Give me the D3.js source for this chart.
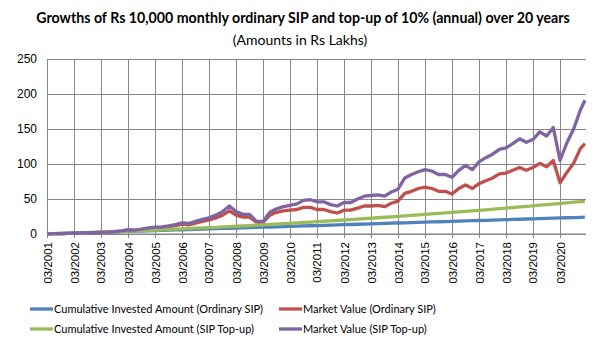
<!DOCTYPE html>
<html>
<head>
<meta charset="utf-8">
<script src="https://cdn.jsdelivr.net/npm/d3@7"></script>
<style>
  body { margin: 0; background: #fff; }
  svg { font-family: Lato, "Open Sans", sans-serif; }
</style>
</head>
<body>
<svg width="605" height="346"></svg>
<script>
// quarterly readings, Mar 2001 .. Dec 2020, then Feb 2021
var dates = [
  '03/2001','06/2001','09/2001','12/2001','03/2002','06/2002','09/2002','12/2002',
  '03/2003','06/2003','09/2003','12/2003','03/2004','06/2004','09/2004','12/2004',
  '03/2005','06/2005','09/2005','12/2005','03/2006','06/2006','09/2006','12/2006',
  '03/2007','06/2007','09/2007','12/2007','03/2008','06/2008','09/2008','12/2008',
  '03/2009','06/2009','09/2009','12/2009','03/2010','06/2010','09/2010','12/2010',
  '03/2011','06/2011','09/2011','12/2011','03/2012','06/2012','09/2012','12/2012',
  '03/2013','06/2013','09/2013','12/2013','03/2014','06/2014','09/2014','12/2014',
  '03/2015','06/2015','09/2015','12/2015','03/2016','06/2016','09/2016','12/2016',
  '03/2017','06/2017','09/2017','12/2017','03/2018','06/2018','09/2018','12/2018',
  '03/2019','06/2019','09/2019','12/2019','03/2020','06/2020','09/2020','12/2020',
  '02/2021'
];

// Cumulative Invested Amount (Ordinary SIP)
var investedSip = [
  0.1, 0.4, 0.7, 1.0, 1.3, 1.6, 1.9, 2.2, 2.5, 2.8, 3.1, 3.4, 3.7, 4.0, 4.3, 4.6,
  4.9, 5.2, 5.5, 5.8, 6.1, 6.4, 6.7, 7.0, 7.3, 7.6, 7.9, 8.2, 8.5, 8.8, 9.1, 9.4,
  9.7, 10.0, 10.3, 10.6, 10.9, 11.2, 11.5, 11.8, 12.1, 12.4, 12.7, 13.0, 13.3, 13.6, 13.9, 14.2,
  14.5, 14.8, 15.1, 15.4, 15.7, 16.0, 16.3, 16.6, 16.9, 17.2, 17.5, 17.8, 18.1, 18.4, 18.7, 19.0,
  19.3, 19.6, 19.9, 20.2, 20.5, 20.8, 21.1, 21.4, 21.7, 22.0, 22.3, 22.6, 22.9, 23.2, 23.5, 23.8,
  24.0
];

// Market Value (Ordinary SIP)
var marketSip = [
  0.1, 0.4, 0.6, 0.9, 1.2, 1.5, 1.7, 2.0, 2.2, 2.6, 3.3, 4.2, 5.8, 5.3, 6.5, 8.0,
  8.8, 9.0, 10.5, 12.0, 14.0, 13.0, 15.5, 18.0, 20.0, 23.0, 27.0, 33.0, 27.0, 24.0, 24.0, 17.0,
  16.5, 27.0, 31.0, 33.0, 34.0, 35.0, 38.0, 38.0, 35.0, 35.0, 32.0, 30.0, 34.0, 34.0, 37.0, 40.0,
  40.0, 41.0, 39.0, 44.0, 47.0, 58.0, 61.0, 65.0, 67.0, 65.0, 61.0, 61.0, 57.0, 65.0, 70.0, 65.0,
  72.0, 76.0, 80.0, 86.0, 87.0, 91.0, 95.0, 91.0, 95.0, 101.0, 96.0, 105.0, 73.0, 88.0, 101.0, 122.0,
  129.0
];

// Cumulative Invested Amount (SIP Top-up)
var investedTopup = [
  0.1, 0.4, 0.7, 1.0, 1.3, 1.6, 2.0, 2.3, 2.6, 3.0, 3.4, 3.7, 4.1, 4.5, 4.9, 5.3,
  5.7, 6.1, 6.5, 6.9, 7.4, 7.8, 8.3, 8.7, 9.2, 9.6, 10.1, 10.6, 11.1, 11.6, 12.1, 12.6,
  13.1, 13.7, 14.2, 14.8, 15.3, 15.9, 16.5, 17.0, 17.6, 18.2, 18.8, 19.4, 20.0, 20.6, 21.3, 21.9,
  22.5, 23.2, 23.9, 24.5, 25.2, 25.9, 26.6, 27.3, 28.0, 28.7, 29.4, 30.1, 30.9, 31.6, 32.4, 33.1,
  33.9, 34.6, 35.4, 36.2, 37.0, 37.8, 38.6, 39.4, 40.2, 41.1, 41.9, 42.8, 43.6, 44.5, 45.4, 46.2,
  46.8
];

// Market Value (SIP Top-up)
var marketTopup = [
  0.1, 0.4, 0.6, 0.9, 1.2, 1.5, 1.8, 2.1, 2.3, 2.8, 3.5, 4.5, 6.0, 5.6, 7.0, 8.8,
  9.8, 10.0, 11.5, 13.5, 16.0, 15.0, 18.0, 21.0, 23.0, 27.0, 32.0, 40.0, 32.0, 28.0, 28.0, 18.5,
  18.0, 31.0, 36.0, 39.0, 41.0, 43.0, 48.0, 49.0, 46.0, 46.0, 42.0, 40.0, 45.0, 45.0, 50.0, 54.0,
  55.0, 56.0, 54.0, 60.0, 64.0, 80.0, 85.0, 89.0, 92.0, 90.0, 85.0, 85.0, 81.0, 91.0, 98.0, 92.0,
  103.0, 109.0, 114.0, 121.0, 123.0, 129.0, 136.0, 131.0, 135.0, 146.0, 140.0, 152.0, 105.0, 130.0, 150.0, 177.0,
  191.0
];

var yTicks = [0, 50, 100, 150, 200, 250];
var xTickLabels = ['03/2001','03/2002','03/2003','03/2004','03/2005','03/2006','03/2007',
  '03/2008','03/2009','03/2010','03/2011','03/2012','03/2013','03/2014','03/2015',
  '03/2016','03/2017','03/2018','03/2019','03/2020'];

var seriesNames = ['Cumulative Invested Amount (Ordinary SIP)', 'Market Value (Ordinary SIP)',
  'Cumulative Invested Amount (SIP Top-up)', 'Market Value (SIP Top-up)'];
var seriesValues = [investedSip, marketSip, investedTopup, marketTopup];
var colors = ['#4f81bd', '#c0504d', '#9bbb59', '#8064a2'];

var margin = { top: 59, left: 47, right: 19, bottom: 112 };
var width = 605 - margin.left - margin.right,
    height = 346 - margin.top - margin.bottom;

var parse = d3.timeParse('%m/%Y');

var svg = d3.select('svg');
var g = svg.append('g')
    .attr('transform', 'translate(' + margin.left + ',' + margin.top + ')');

var x = d3.scaleTime()
    .domain([parse('03/2001'), parse('03/2021')])
    .range([0, 540]);
var y = d3.scaleLinear().domain([0, 250]).range([height, 0]);

// horizontal grid + y labels
var yAxis = g.append('g')
    .call(d3.axisLeft(y).tickValues(yTicks).tickSize(-width).tickPadding(10));
yAxis.select('.domain').remove();
yAxis.selectAll('line').attr('stroke', '#868686');
yAxis.selectAll('text').attr('font-size', '12px').attr('fill', '#000');

// vertical grid + rotated date labels
var xAxis = g.append('g')
    .attr('transform', 'translate(0,' + height + ')')
    .call(d3.axisBottom(x)
      .tickValues(xTickLabels.map(parse))
      .tickFormat(d3.timeFormat('%m/%Y'))
      .tickSizeInner(-height - 4)
      .tickSizeOuter(0));
xAxis.select('.domain').remove();
xAxis.selectAll('line').attr('stroke', '#868686').attr('y1', 4).attr('y2', -height);
xAxis.selectAll('text')
    .attr('font-size', '11.5px')
    .attr('fill', '#000')
    .attr('transform', 'rotate(-90)')
    .attr('text-anchor', 'end')
    .attr('x', -8)
    .attr('y', 0)
    .attr('dy', '0.35em');

// x axis baseline
g.append('line')
    .attr('x1', 0).attr('x2', width)
    .attr('y1', height).attr('y2', height)
    .attr('stroke', '#868686');

var line = d3.line()
    .x(function(d, i) { return x(parse(dates[i])); })
    .y(function(d) { return y(d); });

seriesValues.forEach(function(vals, k) {
  g.append('path')
      .datum(vals)
      .attr('fill', 'none')
      .attr('stroke', colors[k])
      .attr('stroke-width', 3.3)
      .attr('stroke-linejoin', 'round')
      .attr('d', line);
});

// titles
svg.append('text')
    .attr('x', 303).attr('y', 23)
    .attr('text-anchor', 'middle')
    .attr('font-size', '14.2px')
    .attr('font-weight', 'bold')
    .text('Growths of Rs 10,000 monthly ordinary SIP and top-up of 10% (annual) over 20 years');
svg.append('text')
    .attr('x', 300).attr('y', 45)
    .attr('text-anchor', 'middle')
    .attr('font-size', '14px')
    .text('(Amounts in Rs Lakhs)');

// legend
var legendPos = [[30, 309], [279, 309], [30, 329], [279, 329]];
seriesNames.forEach(function(name, k) {
  var lg = svg.append('g').attr('transform', 'translate(' + legendPos[k][0] + ',' + legendPos[k][1] + ')');
  lg.append('line').attr('x1', 0).attr('x2', 23)
      .attr('stroke', colors[k]).attr('stroke-width', 3.3);
  lg.append('text').attr('x', 24).attr('dy', '0.35em')
      .attr('font-size', '11px')
      .text(name);
});
</script>
</body>
</html>
